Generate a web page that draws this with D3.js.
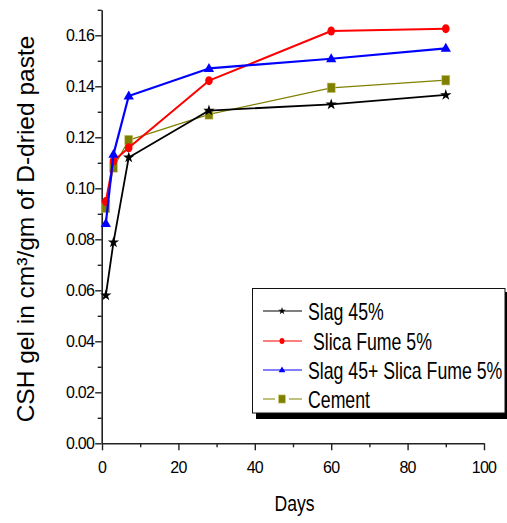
<!DOCTYPE html>
<html>
<head>
<meta charset="utf-8">
<script src="https://cdn.jsdelivr.net/npm/d3@7"></script>
<style>
  html, body { margin: 0; padding: 0; background: #fff; }
  svg { display: block; font-family: "Liberation Sans", Arial, sans-serif; }
</style>
</head>
<body>
<svg id="chart" width="507" height="523"></svg>
<script>
// Curing ages (days) at which CSH gel content was measured
const days = [1, 3, 7, 28, 60, 90];

// CSH gel content (cm³/gm of D-dried paste) per mix
const slag45 = [0.058, 0.0788, 0.1121, 0.1305, 0.1329, 0.1366];
const silicaFume5 = [0.0948, 0.1107, 0.1159, 0.1422, 0.1617, 0.1626];
const slagSilica = [0.0862, 0.1133, 0.1362, 0.1470, 0.1508, 0.1549];
const cement = [0.0923, 0.1082, 0.1189, 0.1290, 0.1394, 0.1424];

const seriesNames = ["Slag 45%", " Slica Fume 5%", "Slag 45+ Slica Fume 5%", "Cement"];

const xTicks = [0, 20, 40, 60, 80, 100];
const yTicks = [0.00, 0.02, 0.04, 0.06, 0.08, 0.10, 0.12, 0.14, 0.16];

const svg = d3.select("#chart");

const x = d3.scaleLinear().domain([0, 100]).range([102, 484]);
const y = d3.scaleLinear().domain([0, 0.17]).range([443.3, 9.8]);

const axisColor = "#222";

// ---- axes ----
const xAxis = svg.append("g")
  .attr("transform", `translate(0,${y(0)})`)
  .call(d3.axisBottom(x).tickValues(d3.range(0, 101, 10)).tickSize(0).tickFormat(""));
xAxis.select(".domain").attr("stroke", axisColor).attr("stroke-width", 1.6);
xAxis.selectAll(".tick line")
  .attr("stroke", axisColor).attr("stroke-width", 1.4)
  .attr("y2", d => d % 20 === 0 ? 7 : 4);
svg.append("g").selectAll("text").data(xTicks).join("text")
  .attr("x", d => x(d)).attr("y", 473)
  .attr("text-anchor", "middle")
  .attr("font-size", 16).attr("letter-spacing", -0.8)
  .attr("fill", "#000")
  .text(d => d);

const yAxis = svg.append("g")
  .attr("transform", `translate(${x(0) - 0.3},0)`)
  .call(d3.axisLeft(y).tickValues(d3.range(0, 18).map(i => i / 100)).tickSize(0).tickFormat(""));
yAxis.select(".domain").attr("stroke", axisColor).attr("stroke-width", 1.6);
yAxis.selectAll(".tick line")
  .attr("stroke", axisColor).attr("stroke-width", 1.4)
  .attr("x2", (d, i) => i % 2 === 0 ? -6.5 : -4);
svg.append("g").selectAll("text").data(yTicks).join("text")
  .attr("x", 94).attr("y", d => y(d) + 5.5)
  .attr("text-anchor", "end")
  .attr("font-size", 16).attr("letter-spacing", -0.8)
  .attr("fill", "#000")
  .text(d => d.toFixed(2));

// axis titles
svg.append("text")
  .attr("transform", "translate(34,229) rotate(-90)")
  .attr("text-anchor", "middle")
  .attr("font-size", 24.5)
  .attr("fill", "#000")
  .text("CSH gel in cm³/gm of D-dried paste");

svg.append("g")
  .attr("transform", "translate(294.5,511) scale(0.8,1)")
  .append("text")
  .attr("text-anchor", "middle")
  .attr("font-size", 22)
  .attr("fill", "#000")
  .text("Days");

// ---- markers ----
const star = d3.symbol().type(d3.symbolStar);
const tri = d3.symbol().type(d3.symbolTriangle);

function drawMarker(g, kind, cx, cy, s, color) {
  if (kind === "star") {
    g.append("path").attr("d", star.size(40 * s * s)()).attr("transform", `translate(${cx},${cy})`)
      .attr("fill", color);
  } else if (kind === "circle") {
    g.append("ellipse").attr("cx", cx).attr("cy", cy).attr("rx", 3.8 * s).attr("ry", 4.5 * s)
      .attr("fill", color);
  } else if (kind === "tri") {
    g.append("path").attr("d", tri.size(46 * s * s)()).attr("transform", `translate(${cx},${cy + 0.5 * s})`)
      .attr("fill", color);
  } else if (kind === "square") {
    g.append("rect").attr("x", cx - 4 * s).attr("y", cy - 4.8 * s).attr("width", 8 * s).attr("height", 9.6 * s)
      .attr("fill", color).attr("stroke", "#c8c878").attr("stroke-width", 0.6);
  }
}

const series = [
  { name: seriesNames[3], values: cement, color: "#808000", width: 1.2, marker: "square" },
  { name: seriesNames[0], values: slag45, color: "#000000", width: 1.8, marker: "star" },
  { name: seriesNames[1], values: silicaFume5, color: "#ff0000", width: 2, marker: "circle" },
  { name: seriesNames[2], values: slagSilica, color: "#0000ff", width: 2.2, marker: "tri" }
];

const line = d3.line().x(d => x(d[0])).y(d => y(d[1]));

series.forEach(s => {
  const pts = days.map((d, i) => [d, s.values[i]]);
  const g = svg.append("g");
  g.append("path").attr("d", line(pts))
    .attr("fill", "none").attr("stroke", s.color).attr("stroke-width", s.width)
    .attr("stroke-linejoin", "round");
  pts.forEach(p => drawMarker(g, s.marker, x(p[0]), y(p[1]), 1, s.color));
});

// ---- legend ----
const legend = svg.append("g");
legend.append("rect").attr("x", 256).attr("y", 292).attr("width", 253).attr("height", 127).attr("fill", "#000");
legend.append("rect").attr("x", 252.5).attr("y", 288.5).attr("width", 252.5).attr("height", 124.5)
  .attr("fill", "#fff").attr("stroke", "#111").attr("stroke-width", 1);

const legendOrder = [
  { s: series[1], yy: 311 },
  { s: series[2], yy: 341 },
  { s: series[3], yy: 370 },
  { s: series[0], yy: 399 }
];
legendOrder.forEach(({ s, yy }) => {
  if (s.marker === "square") {
    legend.append("line").attr("x1", 263).attr("x2", 275).attr("y1", yy).attr("y2", yy)
      .attr("stroke", s.color).attr("stroke-width", 1);
    legend.append("line").attr("x1", 289).attr("x2", 302).attr("y1", yy).attr("y2", yy)
      .attr("stroke", s.color).attr("stroke-width", 1);
  } else {
    legend.append("line").attr("x1", 263).attr("x2", 302).attr("y1", yy).attr("y2", yy)
      .attr("stroke", s.color).attr("stroke-width", 1.2);
  }
  drawMarker(legend, s.marker, 282, yy, s.marker === "square" ? 0.85 : 0.65, s.color);
  legend.append("g")
    .attr("transform", `translate(308,${yy + 8.5}) scale(0.77,1)`)
    .append("text")
    .attr("font-size", 23)
    .attr("fill", "#000")
    .attr("xml:space", "preserve")
    .style("white-space", "pre")
    .text(s.name);
});
</script>
</body>
</html>
